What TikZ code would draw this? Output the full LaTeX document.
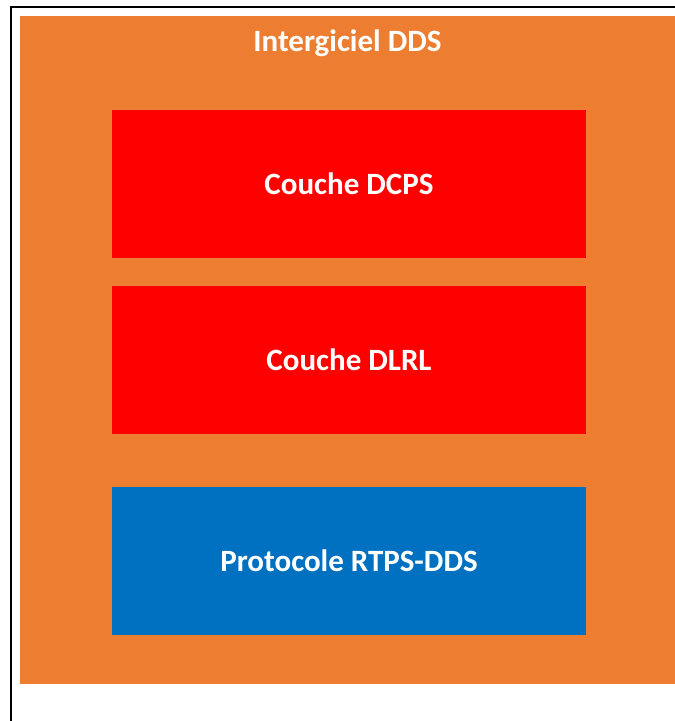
\documentclass[tikz,border=0pt]{standalone}
\usepackage{fontspec}
\setmainfont{Carlito}
\definecolor{ddsorange}{HTML}{ED7D31}
\definecolor{ddsred}{HTML}{FF0000}
\definecolor{ddsblue}{HTML}{0070C0}
\begin{document}
\begin{tikzpicture}[
    x=1pt, y=-1pt,
    layer/.style={minimum width=474pt, minimum height=148pt, inner sep=0pt,
      text=white, font=\fontsize{31}{37}\selectfont\bfseries},
    ]
    \useasboundingbox (0,0) rectangle (675,721);
    \node[fill=ddsorange, minimum width=655pt, minimum height=668pt,
      inner sep=0pt] (mw) at (347.5,350) {};
    \node[text=white, font=\fontsize{31}{37}\selectfont\bfseries]
      (title) at (347.5,43) {Intergiciel DDS};
    \node[layer, fill=ddsred] (dcps) at (349,184) {Couche DCPS};
    \node[layer, fill=ddsred] (dlrl) at (349,359.5) {Couche DLRL};
    \node[layer, fill=ddsblue] (rtps) at (349,560.5) {Protocole RTPS-DDS};
    \draw[line width=2pt] (675,7) -- (11,7) -- (11,721);
  \end{tikzpicture}
\end{document}
